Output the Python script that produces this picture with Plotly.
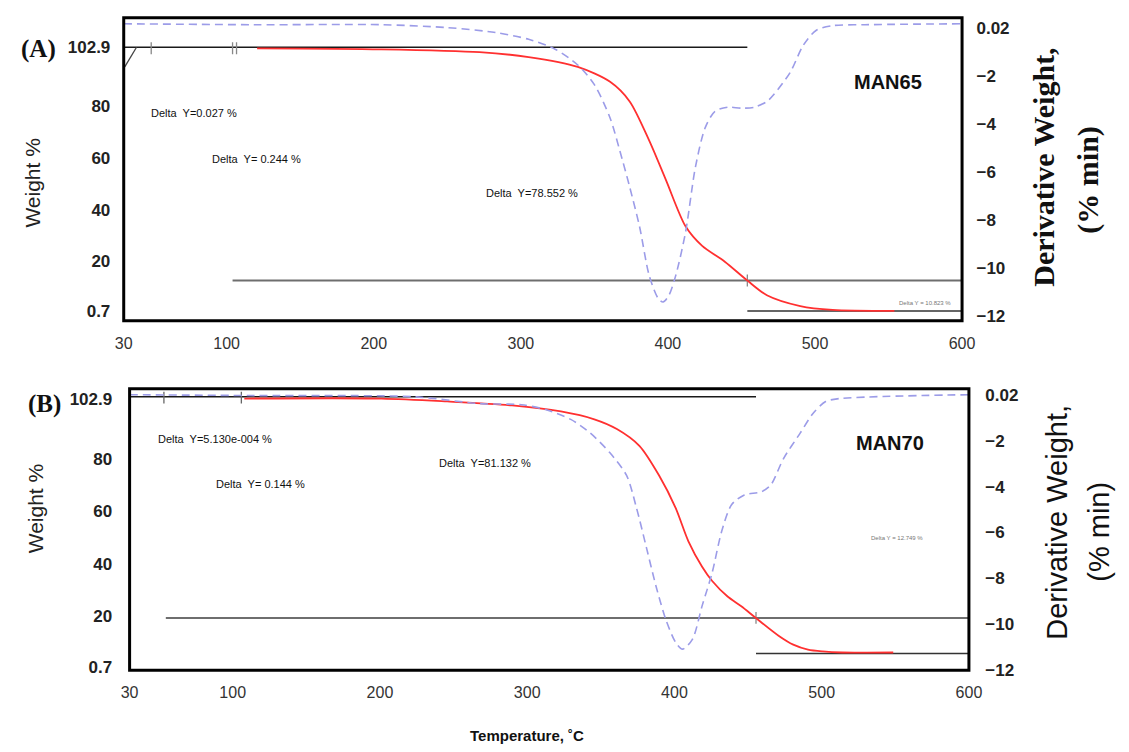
import plotly.graph_objects as go

# ---------------- data ----------------
# Panel A  (MAN65)
temp_dtg_a = [30, 118.7, 205.3, 250, 283.3, 305.3, 323.3, 338.7, 350, 360.7, 367.3, 374, 380.7,
              387.3, 393.3, 396.7, 400.7, 405.3, 412, 418.7, 425.3, 432, 440.7, 450, 458.7,
              467.3, 472, 483.3, 492, 500.7, 512, 534, 600]
dtg_a = [0.18, 0.14, 0.14, 0.02, -0.19, -0.47, -0.88, -1.54, -2.36, -3.75, -5.11, -6.62, -8.27,
         -10.32, -11.26, -11.42, -11.14, -10.32, -8.51, -5.80, -4.16, -3.47, -3.30, -3.34, -3.30,
         -3.06, -2.77, -1.83, -0.72, -0.10, 0.10, 0.14, 0.18]
temp_tga_a = [120.7, 205.3, 272, 305.3, 338.7, 360.7, 374, 387.3, 398.7, 412, 423.3, 438.7,
              454, 467.3, 490, 512, 554]
tga_a = [102.5, 102.1, 101.0, 99.1, 95.3, 89.5, 81.9, 66.7, 51.4, 33.5, 25.9, 19.8,
         12.5, 6.8, 2.6, 1.1, 0.7]

# analysis lines, panel A
top_a_t, top_a_w = [30, 454], [102.9, 102.9]
slant_a_t, slant_a_w = [30.7, 38.7], [95.3, 102.9]
mid_a_t, mid_a_w = [104, 600], [12.5, 12.5]
low_a_t, low_a_w = [454, 600], [0.7, 0.7]
tick_a_t = [48.7, 104, 106.7]
tick_a_w = [104.8, 100.2]
cross_a_t, cross_a_w = 454, [14.8, 10.2]

# Panel B  (MAN70)
temp_dtg_b = [30, 114.6, 223.1, 267.7, 296.3, 312.3, 329.6, 342.9, 356.2, 367.5, 374.2, 380.9,
              387.5, 394.2, 400.8, 405.5, 412.2, 418.8, 425.5, 432.1, 438.8, 447.5, 458.8,
              465.4, 474.1, 485.4, 494.1, 502.7, 512, 600]
dtg_b = [0.02, -0.02, -0.07, -0.37, -0.42, -0.63, -1.06, -1.66, -2.52, -3.51, -4.92, -6.64,
         -8.35, -9.81, -10.80, -11.10, -10.67, -9.21, -7.79, -5.95, -4.79, -4.36, -4.23,
         -3.93, -2.77, -1.66, -0.80, -0.28, -0.15, 0.02]
temp_tga_b = [107.9, 201.1, 245.7, 289.7, 322.9, 345.6, 360.9, 376.2, 389.5, 400.8, 409.5,
              418.8, 425.5, 436.1, 445.4, 455.4, 470.7, 480.7, 490.7, 500.7, 514, 548.6]
tga_b = [102.9, 102.9, 101.8, 100.3, 98.0, 95.0, 91.3, 84.9, 73.7, 61.3, 48.6,
         38.9, 33.6, 27.6, 23.9, 19.4, 12.7, 9.3, 7.4, 6.7, 6.3, 6.3]

top_b_t, top_b_w = [30, 455.4], [103.6, 103.6]
mid_b_t, mid_b_w = [54.6, 600], [19.4, 19.4]
low_b_t, low_b_w = [455.4, 600], [5.9, 5.9]
tick_b_t = [53.3, 105.9]
tick_b_w = [105.5, 101.0]
cross_b_t, cross_b_w = 455.4, [21.7, 17.2]

# axis ticks
x_ticks = [30, 100, 200, 300, 400, 500, 600]
w_ticks = [0.7, 20, 40, 60, 80, 102.9]
w_ticktext = ["0.7", "20", "40", "60", "80", "102.9"]
d_ticks = [0.02, -2, -4, -6, -8, -10, -12]
d_ticktext = ["0.02", "\u22122", "\u22124", "\u22126", "\u22128", "\u221210", "\u221212"]

# ---------------- figure ----------------
W, H = 1129, 752
def px(x):
    return x / W
def py(y):
    return 1 - y / H

RED = "#ff3030"
BLUE = "#9c9ce8"
SANS = "Liberation Sans"
SERIF = "Liberation Serif"

fig = go.Figure()

def seg_trace(xs, ys, xa, ya, color, width, dash="solid"):
    return go.Scatter(x=xs, y=ys, xaxis=xa, yaxis=ya, mode="lines",
                      line=dict(color=color, width=width, dash=dash),
                      hoverinfo="skip", showlegend=False)

def ticks_trace(ts, wr, xa, ya, color):
    xs, ys = [], []
    for t in ts:
        xs += [t, t, None]
        ys += [wr[0], wr[1], None]
    return seg_trace(xs, ys, xa, ya, color, 1.3)

# panel A
fig.add_trace(seg_trace(mid_a_t, mid_a_w, "x", "y", "#6e6e6e", 2))
fig.add_trace(seg_trace(top_a_t, top_a_w, "x", "y", "#1a1a1a", 1.4))
fig.add_trace(seg_trace(slant_a_t, slant_a_w, "x", "y", "#444", 1.3))
fig.add_trace(seg_trace(low_a_t, low_a_w, "x", "y", "#333", 1.6))
fig.add_trace(ticks_trace(tick_a_t, tick_a_w, "x", "y", "#888"))
fig.add_trace(ticks_trace([cross_a_t], cross_a_w, "x", "y", "#888"))
fig.add_trace(go.Scatter(x=temp_dtg_a, y=dtg_a, xaxis="x", yaxis="y2", mode="lines",
                         line=dict(color=BLUE, width=1.6, dash="8px,5px", shape="spline", smoothing=0.8),
                         hoverinfo="skip", showlegend=False))
fig.add_trace(go.Scatter(x=temp_tga_a, y=tga_a, xaxis="x", yaxis="y", mode="lines",
                         line=dict(color=RED, width=1.8, shape="spline", smoothing=0.8),
                         hoverinfo="skip", showlegend=False))

# panel B
fig.add_trace(seg_trace(mid_b_t, mid_b_w, "x2", "y3", "#6e6e6e", 2))
fig.add_trace(seg_trace(top_b_t, top_b_w, "x2", "y3", "#1a1a1a", 1.4))
fig.add_trace(seg_trace(low_b_t, low_b_w, "x2", "y3", "#333", 1.6))
fig.add_trace(ticks_trace(tick_b_t, tick_b_w, "x2", "y3", "#666"))
fig.add_trace(ticks_trace([cross_b_t], cross_b_w, "x2", "y3", "#888"))
fig.add_trace(go.Scatter(x=temp_dtg_b, y=dtg_b, xaxis="x2", yaxis="y4", mode="lines",
                         line=dict(color=BLUE, width=1.6, dash="8px,5px", shape="spline", smoothing=0.8),
                         hoverinfo="skip", showlegend=False))
fig.add_trace(go.Scatter(x=temp_tga_b, y=tga_b, xaxis="x2", yaxis="y3", mode="lines",
                         line=dict(color=RED, width=1.8, shape="spline", smoothing=0.8),
                         hoverinfo="skip", showlegend=False))

# axes geometry (pixel boxes)
A_box = (117, 972, 15, 323)
B_box = (123, 979, 392, 678)

common_x = dict(range=[30, 600], tickvals=x_ticks, showgrid=False, zeroline=False, showline=False,
                ticks="outside", ticklen=8, tickcolor="rgba(0,0,0,0)",
                tickfont=dict(family=SANS, size=16, color="#333"))
left_y = dict(tickvals=w_ticks, ticktext=w_ticktext, showgrid=False, zeroline=False, showline=False,
              ticks="outside", tickcolor="rgba(0,0,0,0)",
              tickfont=dict(family=SANS, size=17, color="#222", weight="bold"))
right_y = dict(tickvals=d_ticks, ticktext=d_ticktext, showgrid=False, zeroline=False, showline=False,
               side="right", ticks="outside", tickcolor="rgba(0,0,0,0)",
               tickfont=dict(family=SANS, size=17, color="#222", weight="bold"))

fig.update_layout(
    width=W, height=H, margin=dict(l=0, r=0, t=0, b=0),
    paper_bgcolor="white", plot_bgcolor="white", showlegend=False,
    xaxis=dict(domain=[px(A_box[0]), px(A_box[1])], anchor="y", **common_x),
    yaxis=dict(domain=[py(A_box[3]), py(A_box[2])], anchor="x", range=[-3.13, 114.34],
               ticklen=9, **left_y),
    yaxis2=dict(overlaying="y", anchor="x", range=[-12.205, 0.43], ticklen=10, **right_y),
    xaxis2=dict(domain=[px(B_box[0]), px(B_box[1])], anchor="y3", **common_x),
    yaxis3=dict(domain=[py(B_box[3]), py(B_box[2])], anchor="x2", range=[-0.43, 106.64],
                ticklen=13, **left_y),
    yaxis4=dict(overlaying="y3", anchor="x2", range=[-12.02, 0.28], ticklen=12, **right_y),
)

# frames
for (x0, x1, y0, y1) in (A_box, B_box):
    fig.add_shape(type="rect", xref="paper", yref="paper",
                  x0=px(x0), x1=px(x1), y0=py(y1), y1=py(y0),
                  line=dict(color="black", width=3), fillcolor="rgba(0,0,0,0)")

def ann(text, x, y, size, family=SANS, color="#111", bold=False, angle=0):
    fig.add_annotation(text=text, x=px(x), y=py(y), xref="paper", yref="paper",
                       showarrow=False, textangle=angle, xanchor="center", yanchor="middle",
                       font=dict(family=family, size=size, color=color,
                                 weight="bold" if bold else "normal"))

NB = "\u00a0"
# panel A texts
ann("(A)", 30, 47, 25, family=SERIF, bold=True)
ann("Weight %", 24, 183, 21, color="#222", angle=-90)
ann("Derivative Weight,", 1055, 167, 30, family=SERIF, bold=True, angle=-90)
ann("(% min)", 1101, 180, 30, family=SERIF, bold=True, angle=-90)
ann("MAN65", 896, 80, 20, bold=True)
ann(f"Delta{NB} Y=0.027 %", 189, 112, 11)
ann(f"Delta{NB} Y={NB}0.244 %", 252, 159, 11)
ann(f"Delta{NB} Y=78.552 %", 533, 193, 11)
ann("Delta Y = 10.823 %", 934, 305, 6, color="#777")

# panel B texts
ann("(B)", 36, 407, 25, family=SERIF, bold=True)
ann("Weight %", 27, 513, 21, color="#222", angle=-90)
ann("Derivative Weight,", 1068, 528, 29, color="#111", angle=-90)
ann("(% min)", 1112, 537, 29, color="#111", angle=-90)
ann("MAN70", 899, 447, 20, bold=True)
ann(f"Delta{NB} Y=5.130e-004 %", 210, 443, 11)
ann(f"Delta{NB} Y={NB}0.144 %", 257, 489, 11)
ann(f"Delta{NB} Y=81.132 %", 485, 467, 11)
ann("Delta Y = 12.749 %", 906, 544, 6, color="#777")

ann("Temperature, \u02daC", 528, 744, 15, bold=True)

fig.write_html("out.html",
               post_script="document.body.style.margin='0';document.body.style.overflow='hidden';")
